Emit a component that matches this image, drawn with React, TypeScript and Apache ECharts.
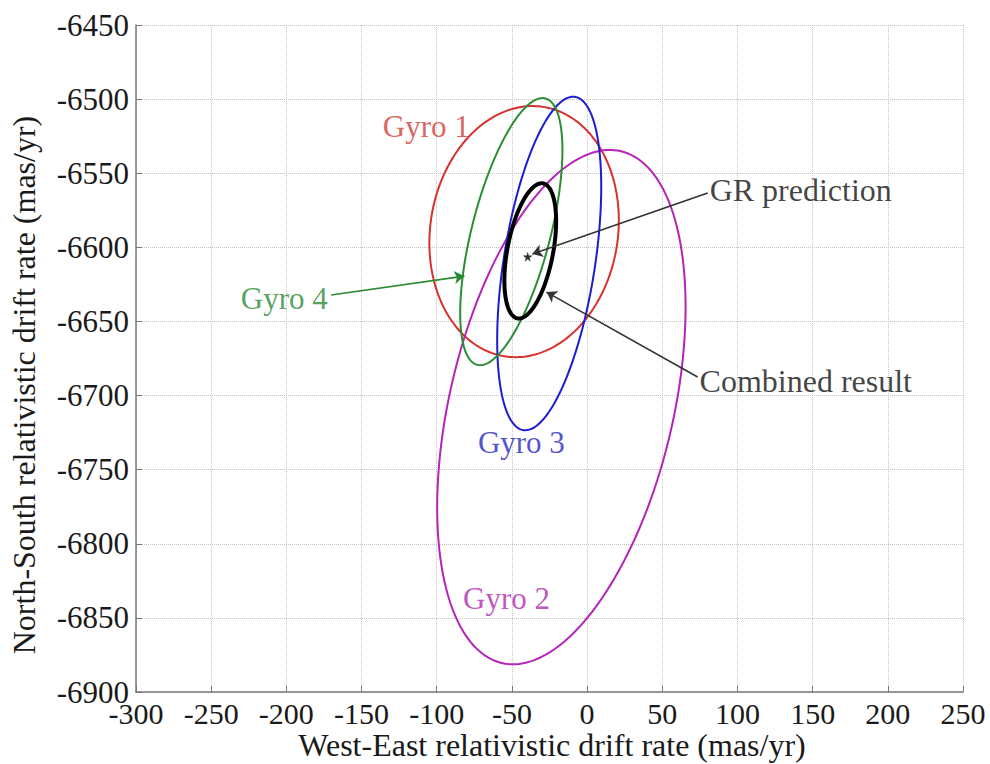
import React, { useEffect, useRef } from "react";
import * as echarts from "echarts";

// Error ellipses: centre, half-extent in x and y, and
// tilt (cosine of the phase between x and y extremes).
const ellipseNames = ["Gyro 1", "Gyro 2", "Gyro 3", "Gyro 4", "Combined result"];
const ellipseCenterX = [-41.9, -17.1, -25.2, -50.4, -37.8];
const ellipseCenterY = [-6589.4, -6707.8, -6610.9, -6589.4, -6602.4];
const ellipseHalfWidth = [63.0, 82.6, 34.6, 34.0, 17.2];
const ellipseHalfHeight = [84.7, 173.5, 112.5, 90.1, 45.6];
const ellipseTilt = [0.09, 0.39, 0.46, 0.61, 0.44];

// GR prediction point
const grPredictionX = [-39.5];
const grPredictionY = [-6606.3];

// Annotation texts and their anchor positions (data units)
const labelTexts = ["Gyro 1", "Gyro 4", "Gyro 3", "Gyro 2", "GR prediction", "Combined result"];
const labelX = [-106.9, -201.4, -43.7, -53.6, 81.5, 74.8];
const labelY = [-6518.2, -6634.2, -6731.4, -6836.6, -6561.3, -6690.2];

// Arrows (data units)
const arrowFromX = [-170.2, 80.2, 73.5];
const arrowFromY = [-6632.2, -6563.4, -6687.5];
const arrowToX = [-81.6, -36.4, -27.0];
const arrowToY = [-6619.4, -6604.5, -6630.2];

// Axis ranges
const xRange = [-300, 250];
const yRange = [-6900, -6450];
const tickStep = 50;

// Styles
const FONT = "'Liberation Serif', 'Times New Roman', serif";
const ellipseColors = ["#d8302c", "#b424b8", "#1c1cd0", "#2a8e34", "#000000"];
const ellipseWidths = [2, 2, 2, 2, 4];
const labelColors = ["#d03a34", "#2a8a34", "#2626c0", "#b028b0", "#111111", "#111111"];
const labelAlignLeft = [false, false, false, false, true, true];
const labelSizes = [31, 31, 31, 31, 32, 32];
const arrowColors = ["#2a8a34", "#333333", "#333333"];

export default function App() {
  const ref = useRef<HTMLDivElement>(null);

  useEffect(() => {
    if (!ref.current) return;
    const chart = echarts.init(ref.current, undefined, { renderer: "svg" });

    const ellipseData = ellipseNames.map((n, i) => ({
      name: n,
      value: [
        ellipseCenterX[i],
        ellipseCenterY[i],
        ellipseHalfWidth[i],
        ellipseHalfHeight[i],
        ellipseTilt[i],
      ],
    }));

    const labelData = labelTexts.map((t, i) => ({
      value: [labelX[i], labelY[i]],
      label: {
        show: true,
        formatter: t,
        color: labelColors[i],
        position: labelAlignLeft[i] ? "right" : "inside",
        distance: 0,
        fontSize: labelSizes[i],
        fontFamily: FONT,
      },
    }));

    const arrowData = arrowFromX.map((_, i) => [
      {
        coord: [arrowFromX[i], arrowFromY[i]],
        lineStyle: { color: arrowColors[i], width: 1.6, type: "solid" },
        itemStyle: { color: arrowColors[i] },
      },
      { coord: [arrowToX[i], arrowToY[i]] },
    ]);

    const axisCommon = {
      type: "value",
      interval: tickStep,
      axisLine: { show: true, onZero: false, lineStyle: { color: "#7a7a7a", width: 1.5 } },
      axisTick: { show: true, inside: true, length: 6, lineStyle: { color: "#7a7a7a" } },
      splitLine: { show: true, lineStyle: { color: "#c4c4c4", type: "dotted", width: 1 } },
      axisLabel: {
        color: "#1a1a1a",
        fontSize: 30,
        lineHeight: 20,
        fontFamily: FONT,
        formatter: (v: number) => String(v),
      },
    };

    chart.setOption({
      animation: false,
      backgroundColor: "#ffffff",
      grid: { left: 136, right: 27, top: 25, bottom: 72, containLabel: false },
      xAxis: {
        ...axisCommon,
        min: xRange[0],
        max: xRange[1],
        axisLabel: { ...axisCommon.axisLabel, margin: 11 },
      },
      yAxis: {
        ...axisCommon,
        min: yRange[0],
        max: yRange[1],
        axisLabel: { ...axisCommon.axisLabel, fontSize: 31, margin: 7 },
      },
      graphic: [
        {
          type: "text",
          x: 552,
          y: 745,
          style: {
            text: "West-East relativistic drift rate (mas/yr)",
            fontSize: 32,
            fontFamily: FONT,
            fill: "#1a1a1a",
            align: "center",
            verticalAlign: "middle",
          },
        },
        {
          type: "text",
          x: 24,
          y: 385,
          rotation: Math.PI / 2,
          style: {
            text: "North-South relativistic drift rate (mas/yr)",
            fontSize: 32,
            fontFamily: FONT,
            fill: "#1a1a1a",
            align: "center",
            verticalAlign: "middle",
          },
        },
      ],
      series: [
        {
          type: "custom",
          name: "ellipses",
          coordinateSystem: "cartesian2d",
          encode: { x: 0, y: 1 },
          data: ellipseData,
          silent: true,
          z: 3,
          renderItem: (params: any, api: any) => {
            const cx = api.value(0);
            const cy = api.value(1);
            const rx = api.value(2);
            const ry = api.value(3);
            const d = Math.acos(api.value(4));
            const pts: number[][] = [];
            const N = 200;
            for (let k = 0; k < N; k++) {
              const t = (k / N) * Math.PI * 2;
              pts.push(api.coord([cx + rx * Math.cos(t), cy + ry * Math.cos(t - d)]));
            }
            return {
              type: "polygon",
              shape: { points: pts },
              style: {
                fill: "none",
                stroke: ellipseColors[params.dataIndex],
                lineWidth: ellipseWidths[params.dataIndex],
              },
            };
          },
        },
        {
          type: "scatter",
          name: "GR prediction",
          data: grPredictionX.map((x, i) => [x, grPredictionY[i]]),
          symbol: "path://M50,0 L61,35 L98,35 L68,57 L79,91 L50,70 L21,91 L32,57 L2,35 L39,35 Z",
          symbolSize: 10,
          itemStyle: { color: "#000" },
          z: 5,
          silent: true,
          markLine: {
            silent: true,
            symbol: ["none", "arrow"],
            symbolSize: 10,
            label: { show: false },
            data: arrowData,
            animation: false,
          },
        },
        {
          type: "scatter",
          name: "labels",
          data: labelData,
          symbolSize: 0,
          itemStyle: { color: "rgba(0,0,0,0)" },
          silent: true,
          z: 6,
        },
      ],
    });

    return () => chart.dispose();
  }, []);

  return (
    <div
      ref={ref}
      style={{ position: "absolute", left: 0, top: 0, width: 990, height: 764 }}
    />
  );
}
